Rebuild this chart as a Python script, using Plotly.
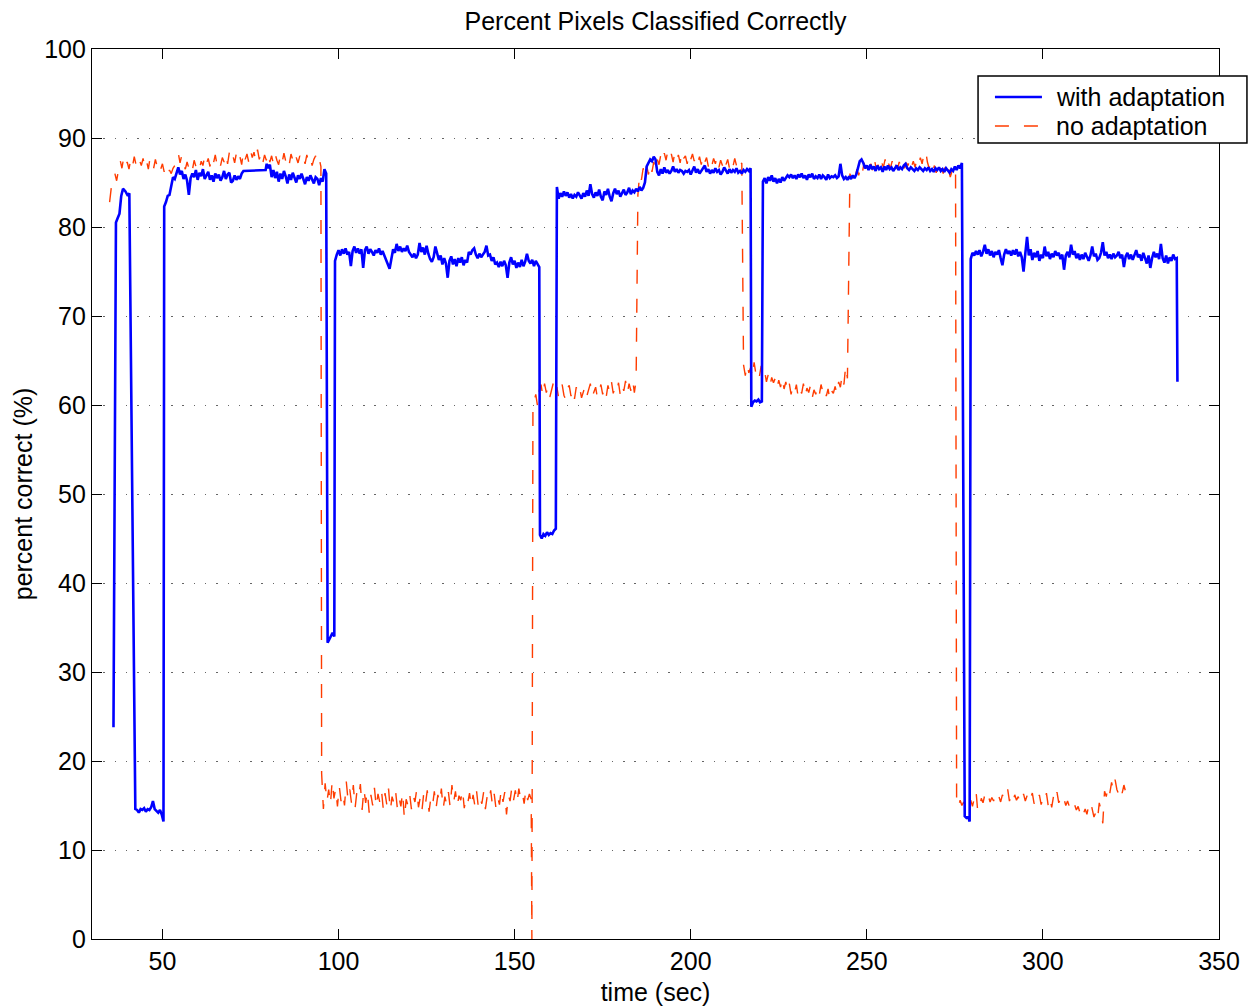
import plotly.graph_objects as go

# ---------------------------------------------------------------
# Percent of pixels classified correctly over time, two classifiers.
# Long runs are sampled every 0.5 s from a start time; short
# transition stretches carry their own time stamps.
# ---------------------------------------------------------------

STEP = 0.5

# ----- "with adaptation" -----
with_start_t = [36.1, 36.8, 37.3, 37.8, 38.3, 38.8, 39.5, 40.2, 40.6]
with_start_v = [23.8, 80.5, 81.0, 81.5, 83.5, 84.3, 84.0, 83.5, 83.8]

with_low_a_t0 = 42.3
with_low_a = [14.6, 14.5, 14.2, 14.6, 14.5, 14.7, 14.3, 14.6, 14.5, 14.8, 15.5, 14.6,
              14.4, 14.2, 14.5, 14.0, 13.2]

with_high_a_t0 = 50.5
with_high_a = [82.3, 82.8, 83.5, 83.6, 84.6, 85.6, 85.4, 86.2, 86.7, 85.9, 86.3, 85.4,
               85.9, 85.2, 83.6, 85.5, 86.0, 85.6, 86.4, 85.3, 86.1, 85.7, 86.5, 85.4,
               85.9, 86.2, 85.3, 85.8, 85.1, 86.0, 85.5, 85.9, 85.2, 85.6, 86.3, 85.4,
               85.9, 86.1, 85.0, 85.2, 85.8, 85.3, 85.7, 85.4, 86.0, 86.3]

with_hold_t = [79.3, 79.6]
with_hold_v = [86.4, 87.1]

with_high_b_t0 = 80.0
with_high_b = [86.6, 87.0, 85.6, 86.4, 85.5, 86.2, 85.1, 86.0, 85.4, 86.3, 85.7, 84.9,
               85.9, 85.3, 86.1, 85.6, 85.0, 85.8, 85.4, 86.0, 85.5, 84.8, 85.6, 85.2,
               85.8, 85.3, 84.9, 85.6, 85.4, 84.7, 85.5, 85.1, 86.5, 86.0]

with_low_b_t = [96.9, 97.3, 97.8, 98.3, 98.8]
with_low_b_v = [33.3, 33.6, 34.0, 34.4, 34.0]

with_mid_a_t0 = 99.0
with_mid_a = [76.2, 76.9, 77.4, 76.8, 77.5, 77.0, 77.6, 76.9, 77.2, 75.6, 77.3, 77.8,
              77.1, 77.6, 77.0, 77.5, 75.4, 77.4, 77.8, 77.0, 77.5, 77.2, 76.8, 77.4,
              77.1, 77.6, 76.9, 77.3, 76.8, 76.3, 76.0, 75.3, 76.4, 77.5, 77.1, 78.1,
              77.3, 77.8, 77.2, 77.6, 77.3, 77.9, 77.2, 76.9, 76.6, 77.0, 76.5, 76.9,
              78.2, 77.2, 77.7, 76.9, 77.9, 77.0, 76.4, 76.1, 76.6, 77.8, 76.9, 76.3,
              76.8, 75.8, 76.5, 75.9, 74.3, 76.2, 76.7, 75.8, 76.4, 75.6, 76.5, 76.0,
              76.6, 75.7, 76.3, 76.0, 77.2, 76.9, 77.4, 77.6, 76.9, 76.5, 77.0, 76.6,
              76.9, 77.2, 77.9, 76.8, 76.9, 76.2, 76.6, 75.8, 76.0, 75.5, 76.1, 75.6,
              76.2, 75.7, 74.3, 76.0, 76.6, 75.8, 76.2, 75.4, 76.0, 75.5, 76.3, 75.6,
              76.1, 77.0, 76.2, 75.9, 76.3, 75.6, 76.2, 75.8, 75.5]

with_low_c_t0 = 157.2
with_low_c = [45.4, 45.0, 45.5, 45.3, 45.7, 45.4, 45.6, 45.5, 45.9, 46.1]

with_high_c_t0 = 162.0
with_high_c = [84.5, 83.2, 83.8, 83.4, 84.0, 83.5, 83.9, 83.3, 83.7, 83.2, 83.6, 83.4,
               83.9, 83.5, 83.2, 83.8, 83.4, 84.1, 83.5, 84.8, 83.7, 83.3, 83.9, 83.5,
               84.2, 83.4, 83.0, 84.0, 83.6, 84.3, 83.4, 82.9, 83.8, 84.3, 83.7, 84.1,
               83.4, 83.8, 84.2, 83.6, 83.9, 84.4, 83.7, 84.1, 83.9, 84.3, 84.0, 84.5,
               84.1, 84.4, 85.0, 86.8, 87.3, 87.6, 87.4, 87.9, 87.6, 86.2, 85.8, 86.5,
               86.0, 86.7, 86.1, 86.4, 86.0, 86.3, 86.8, 86.2, 86.5, 86.1, 86.4, 86.3,
               86.0, 86.3, 86.2, 86.4, 85.9, 86.3, 86.8, 86.1, 86.5, 86.0, 86.3, 86.6,
               86.9, 86.2, 86.5, 86.0, 86.4, 86.1, 86.6, 86.2, 86.4, 85.9, 86.2, 86.7,
               86.3, 86.0, 86.5, 86.1, 86.4, 86.2, 86.6, 86.1, 86.3, 86.0, 86.4, 86.2,
               86.5, 86.3, 86.6]

with_low_d_t0 = 217.2
with_low_d = [59.8, 60.3, 60.5, 60.4, 60.6, 60.3, 60.4]

with_high_d_t0 = 220.5
with_high_d = [85.1, 85.5, 84.9, 85.6, 85.2, 85.8, 85.1, 85.5, 84.9, 85.4, 85.0, 85.6,
               85.2, 85.5, 85.8, 85.6, 85.9, 85.5, 85.8, 85.4, 85.9, 85.6, 86.0, 85.5,
               85.8, 85.3, 85.9, 85.6, 86.0, 85.4, 85.7, 85.5, 85.9, 85.4, 85.8, 85.6,
               85.3, 85.9, 85.5, 85.7, 85.6, 85.8, 85.5, 85.7, 87.1, 85.8, 85.4, 85.6,
               85.3, 85.7, 85.4, 85.8, 85.5, 85.9, 86.8, 87.4, 87.6, 87.2, 86.6, 86.9,
               86.4, 87.0, 86.5, 86.8, 86.3, 86.9, 86.5, 86.7, 86.2, 86.8, 86.4, 86.9,
               86.5, 86.7, 86.3, 86.6, 86.9, 86.4, 86.7, 86.5, 86.9, 87.1, 86.6, 86.4,
               86.7, 86.5, 86.3, 86.6, 86.4, 86.7, 86.5, 86.3, 86.6, 86.4, 86.7, 86.3,
               86.5, 86.2, 86.6, 86.4, 86.7, 86.3, 86.5, 86.2, 86.6, 86.4, 86.1, 86.5,
               86.3, 86.8, 86.4, 86.9, 86.6, 87.2]

with_low_e_t = [277.8, 278.3, 278.8, 279.2]
with_low_e_v = [13.8, 13.6, 13.7, 13.2]

with_mid_b_t0 = 279.5
with_mid_b = [76.4, 77.1, 76.8, 77.3, 76.9, 77.4, 76.7, 77.2, 78.0, 77.0, 77.5, 76.8,
              77.3, 76.6, 77.2, 76.9, 77.4, 76.5, 75.7, 76.9, 77.5, 77.0, 77.3, 76.8,
              77.4, 76.9, 77.5, 76.7, 77.2, 76.6, 75.0, 77.0, 78.9, 76.8, 77.5, 76.3,
              77.1, 76.6, 77.3, 76.2, 76.9, 76.5, 77.8, 76.7, 77.2, 76.4, 77.0, 76.6,
              77.3, 76.8, 77.1, 76.4, 76.9, 75.2, 76.8, 77.2, 76.6, 78.0, 76.9, 77.3,
              76.5, 77.0, 76.3, 76.9, 76.4, 77.1, 76.6, 76.2, 76.8, 77.8, 76.7, 77.0,
              76.3, 76.5, 77.1, 78.3, 76.8, 77.2, 76.5, 76.9, 76.4, 77.0, 76.6, 76.8,
              77.2, 76.5, 76.9, 75.5, 76.7, 77.1, 76.4, 76.9, 76.3, 77.0, 77.4, 76.6,
              76.9, 76.2, 77.1, 76.5, 75.9, 76.8, 75.4, 76.5, 77.2, 76.6, 77.0, 76.4,
              78.1, 76.5, 76.0, 76.8, 75.9, 76.6, 76.2, 76.9, 76.4, 76.5]

with_end_t = [338.2]
with_end_v = [62.6]

# ----- "no adaptation" -----
no_high_a_t0 = 35.0
no_high_a = [82.8, 84.5, 85.3, 86.0, 85.2, 86.4, 87.5, 86.6, 87.8, 86.9, 87.3, 86.5,
             87.6, 86.8, 87.9, 87.0, 86.6, 87.5, 86.9, 87.7, 86.7, 87.4, 86.5, 87.8,
             87.0, 86.6, 87.6, 86.8, 87.3, 86.5, 87.1, 86.2, 86.7, 85.9, 86.4, 86.0,
             86.6, 86.9, 87.8, 88.3, 87.2, 88.1, 87.0, 86.5, 87.3, 86.6, 87.1, 86.4,
             87.5, 86.8, 87.2, 86.5, 87.4, 86.9, 88.0, 87.1, 87.7, 86.8, 87.9, 87.2,
             88.1, 87.0, 87.6, 86.9, 87.8, 87.3, 88.2, 87.1, 88.4, 87.5, 88.0, 87.2,
             88.3, 87.4, 87.9, 87.0, 88.5, 87.6, 88.2, 87.3, 88.6, 87.8, 88.4, 87.4,
             88.7, 87.6, 88.3, 87.2, 88.1, 87.5, 88.4, 87.3, 88.0, 87.1, 88.2, 87.5,
             87.0, 88.1, 87.3, 88.3, 87.4, 87.9, 87.0, 88.2, 87.5, 86.9, 87.8, 87.2,
             88.0, 87.4, 87.9, 87.1, 88.1, 87.3, 87.8, 86.9, 87.6, 88.0, 87.2, 87.7,
             86.8]

no_low_a_t0 = 95.2
no_low_a = [18.6, 14.6, 17.5, 15.4, 16.8, 15.1, 17.8, 15.8, 16.9, 14.9, 17.2, 15.5,
            16.4, 15.0, 17.7, 15.6, 16.8, 15.2, 17.3, 14.7, 16.5, 15.9, 17.4, 14.5,
            16.9, 15.3, 16.6, 14.2, 16.2, 15.0, 17.0, 14.8, 16.3, 15.4, 16.7, 14.6,
            16.4, 15.1, 16.9, 14.4, 16.0, 15.3, 16.6, 14.7, 15.9, 14.9, 16.5, 13.5,
            15.7, 15.0, 16.3, 14.6, 16.1, 15.4, 16.8, 14.8, 15.9, 14.5, 16.4, 15.2,
            16.7, 14.3, 15.8, 15.0, 16.6, 14.7, 16.2, 15.3, 16.9, 14.6, 16.0, 15.1,
            16.5, 14.8, 17.3, 15.4, 16.6, 14.9, 16.1, 15.6, 16.8, 14.7, 15.9, 15.3,
            16.4, 14.9, 16.2, 15.0, 16.6, 14.8, 15.8, 15.2, 16.5, 14.6, 16.0, 15.4,
            16.7, 15.0, 16.3, 14.7, 15.9, 15.1, 16.8, 15.4, 16.5, 14.0, 16.2, 15.5,
            17.0, 15.6, 16.7, 15.3, 16.9, 15.8, 16.4, 15.2, 16.8, 15.6, 16.3, 15.7]

no_dip_t = [154.9, 155.2]
no_dip_v = [0.0, 60.2]

no_mid_a_t0 = 155.5
no_mid_a = [60.4, 61.2, 59.9, 61.6, 62.3, 61.0, 62.4, 61.4, 62.1, 60.9, 61.8, 62.5,
            61.2, 62.0, 60.8, 61.7, 62.3, 61.1, 60.6, 61.9, 62.2, 61.0, 61.8, 60.7,
            62.0, 61.3, 61.9, 60.8, 61.6, 62.1, 61.0, 61.8, 62.4, 60.9, 61.5, 62.0,
            60.8, 61.7, 62.3, 61.2, 61.9, 60.9, 62.2, 61.4, 62.6, 61.3, 62.0, 61.5,
            62.5, 61.1, 62.2, 61.6, 62.7, 61.3, 62.4, 61.6, 62.8, 61.4, 62.8]

no_high_b_t0 = 185.0
no_high_b = [83.6, 86.0, 85.3, 86.6, 85.7, 86.9, 85.9, 87.1, 86.2, 87.3, 86.5, 87.6,
             87.0, 88.1, 87.4, 88.3, 87.5, 88.6, 87.8, 88.2, 87.3, 88.4, 87.6, 88.1,
             87.2, 88.5, 87.7, 88.0, 87.1, 88.3, 87.6, 88.2, 87.4, 88.0, 87.2, 87.9,
             87.0, 88.1, 87.3, 87.8, 86.8, 87.6, 86.9, 87.7, 87.1, 87.9, 86.7, 87.5,
             86.9, 87.8, 87.0, 87.6, 86.6, 87.4, 86.8, 87.7, 86.9, 87.5, 86.8, 87.2]

no_mid_b_t0 = 215.0
no_mid_b = [64.5, 63.3, 64.6, 63.6, 64.2, 63.1, 64.8, 63.5, 64.0, 63.2, 64.4, 63.3,
            63.8, 62.6, 63.4, 62.2, 63.1, 62.5, 63.0, 61.9, 62.8, 62.0, 63.1, 61.8,
            62.6, 61.5, 62.4, 61.2, 62.1, 61.4, 62.3, 60.9, 61.8, 61.3, 62.4, 61.0,
            61.9, 61.4, 62.2, 60.8, 61.7, 61.2, 62.0, 61.1, 62.3, 61.5, 62.0, 61.0,
            61.8, 60.6, 61.6, 61.3, 62.1, 61.2, 62.6, 62.0, 63.4, 62.3, 64.4, 63.0]

no_high_c_t0 = 245.2
no_high_c = [86.0, 85.4, 86.3, 85.6, 86.5, 85.8, 86.7, 86.0, 87.2, 86.4, 87.4, 86.6,
             87.1, 86.2, 87.5, 86.5, 87.0, 86.3, 87.3, 86.7, 87.6, 86.4, 87.1, 86.6,
             87.4, 86.3, 87.0, 86.5, 87.3, 86.8, 87.5, 86.6, 87.2, 86.9, 87.7, 86.8,
             87.4, 86.7, 87.6, 87.0, 87.8, 87.1, 88.2, 88.6, 87.3, 86.6, 87.2, 86.3,
             86.9, 86.1, 86.8, 85.9, 86.6, 86.0, 86.7, 85.8, 86.5, 85.6, 86.3, 85.5,
             86.1]

no_low_b_t0 = 275.5
no_low_b = [15.2, 14.8, 15.6, 15.0, 15.4, 14.9, 15.5, 15.1, 15.6, 14.9, 15.7, 16.7,
            14.3, 14.6, 15.8, 15.3, 16.2, 15.6, 16.1, 15.4, 15.9, 15.5, 16.3, 15.7,
            16.0, 15.4, 16.2, 15.6, 16.4, 16.8, 15.5, 16.1, 15.4, 16.2, 15.6, 16.0,
            15.2, 15.9, 16.3, 15.5, 16.1, 15.3, 15.8, 16.4, 15.2, 15.9, 15.5, 16.2,
            15.1, 15.8, 15.4, 16.4, 15.0, 15.9, 14.8, 16.0, 15.4, 16.5, 15.3, 15.8,
            15.2, 15.7, 15.0, 15.5, 14.9, 15.3, 14.7, 15.1, 14.5, 14.9, 14.2, 14.8,
            14.1, 14.6, 14.0, 15.0, 15.5, 14.4, 13.7, 14.2, 13.4, 15.3, 14.5, 13.0,
            16.6, 16.0, 17.2, 16.4, 17.6, 16.7, 17.9, 16.8, 16.3, 17.1, 16.4, 17.3,
            16.5, 17.0, 16.3]

SERIES_NAMES = ["with adaptation", "no adaptation"]
X_TICKS = [50, 100, 150, 200, 250, 300, 350]
Y_TICKS = [0, 10, 20, 30, 40, 50, 60, 70, 80, 90, 100]


def run(t0, values, dt=STEP):
    """Time stamps for a regularly sampled run starting at t0."""
    return [t0 + i * dt for i in range(len(values))]


def join(pieces):
    xs, ys = [], []
    for t, v in pieces:
        xs.extend(t)
        ys.extend(v)
    return xs, ys


with_x, with_y = join([
    (with_start_t, with_start_v),
    (run(with_low_a_t0, with_low_a), with_low_a),
    (run(with_high_a_t0, with_high_a), with_high_a),
    (with_hold_t, with_hold_v),
    (run(with_high_b_t0, with_high_b), with_high_b),
    (with_low_b_t, with_low_b_v),
    (run(with_mid_a_t0, with_mid_a), with_mid_a),
    (run(with_low_c_t0, with_low_c), with_low_c),
    (run(with_high_c_t0, with_high_c), with_high_c),
    (run(with_low_d_t0, with_low_d), with_low_d),
    (run(with_high_d_t0, with_high_d), with_high_d),
    (with_low_e_t, with_low_e_v),
    (run(with_mid_b_t0, with_mid_b), with_mid_b),
    (with_end_t, with_end_v),
])

no_x, no_y = join([
    (run(no_high_a_t0, no_high_a), no_high_a),
    (run(no_low_a_t0, no_low_a), no_low_a),
    (no_dip_t, no_dip_v),
    (run(no_mid_a_t0, no_mid_a), no_mid_a),
    (run(no_high_b_t0, no_high_b), no_high_b),
    (run(no_mid_b_t0, no_mid_b), no_mid_b),
    (run(no_high_c_t0, no_high_c), no_high_c),
    (run(no_low_b_t0, no_low_b), no_low_b),
])

FONT = "Liberation Sans, Arial, Helvetica, sans-serif"
FS = 25
BLUE = "#0000ff"
ORANGE = "#ff3c00"
ORANGE_DASH = "14px,15px"

fig = go.Figure()
fig.add_trace(go.Scatter(
    x=no_x, y=no_y, mode="lines", name=SERIES_NAMES[1],
    line=dict(color=ORANGE, width=1.4, dash=ORANGE_DASH),
))
fig.add_trace(go.Scatter(
    x=with_x, y=with_y, mode="lines", name=SERIES_NAMES[0],
    line=dict(color=BLUE, width=2.6),
))

axis_common = dict(
    showline=True, linecolor="black", linewidth=1.2, mirror="ticks",
    ticks="inside", ticklen=10, tickwidth=1.2, tickcolor="black",
    tickfont=dict(family=FONT, size=FS, color="black"),
    zeroline=False, automargin=False,
)

# Boxed key in the upper right, slightly overhanging the axes frame.
box_x0, box_x1 = 0.7862, 1.0248
box_y0, box_y1 = 0.8944, 0.9697
sample_x0, sample_x1 = 0.8012, 0.8429
label_x = 0.8538
row_y = [0.9461, 0.9135]

shapes = [
    dict(type="rect", xref="paper", yref="paper",
         x0=box_x0, x1=box_x1, y0=box_y0, y1=box_y1,
         line=dict(color="black", width=1.5), fillcolor="white", layer="above"),
    dict(type="line", xref="paper", yref="paper",
         x0=sample_x0, x1=sample_x1, y0=row_y[0], y1=row_y[0],
         line=dict(color=BLUE, width=2.6), layer="above"),
    dict(type="line", xref="paper", yref="paper",
         x0=sample_x0, x1=sample_x1, y0=row_y[1], y1=row_y[1],
         line=dict(color=ORANGE, width=1.4, dash=ORANGE_DASH), layer="above"),
]
annotations = [
    dict(text=name, xref="paper", yref="paper", x=label_x, y=yy,
         xanchor="left", yanchor="middle", showarrow=False,
         font=dict(family=FONT, size=FS, color="black"))
    for name, yy in zip(SERIES_NAMES, row_y)
]

fig.update_layout(
    width=1251, height=1008,
    paper_bgcolor="white", plot_bgcolor="white",
    margin=dict(l=92, r=32, t=49, b=69, autoexpand=False),
    font=dict(family=FONT, size=FS, color="black"),
    title=dict(text="Percent Pixels Classified Correctly", x=0.524, xanchor="center",
               y=0.979, yanchor="middle", font=dict(family=FONT, size=FS, color="black")),
    xaxis=dict(range=[30, 350], tickvals=X_TICKS, showgrid=False,
               title=dict(text="time (sec)", standoff=9,
                          font=dict(family=FONT, size=FS, color="black")),
               **axis_common),
    yaxis=dict(range=[0, 100], tickvals=Y_TICKS, showgrid=True,
               gridcolor="#666666", gridwidth=1.2, griddash="1.4px,9.9px",
               title=dict(text="percent correct (%)", standoff=4,
                          font=dict(family=FONT, size=FS, color="black")),
               **axis_common),
    shapes=shapes,
    annotations=annotations,
    showlegend=False,
)

fig.write_html("out.html")
